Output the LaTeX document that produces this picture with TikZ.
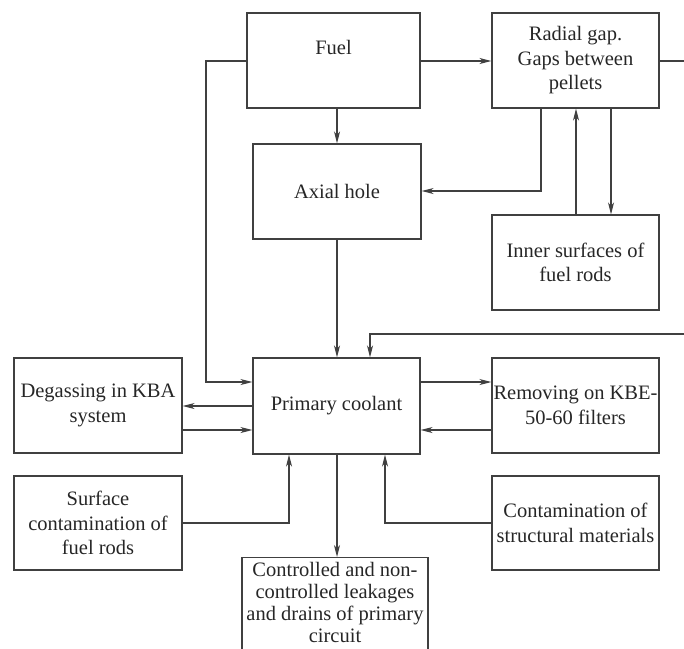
\documentclass[tikz,border=0pt]{standalone}
\usepackage{fontspec}
\setmainfont{Liberation Serif}
\usetikzlibrary{arrows.meta}
\begin{document}
\begin{tikzpicture}[x=1pt,y=-1pt,
  box/.style={draw=black!75,line width=1.1pt,rectangle,inner sep=0pt,align=center,
    font=\fontsize{20.5}{24.5}\selectfont,text=black!85},
  conn/.style={draw=black!75,line width=1.1pt,-{Stealth[length=12pt,width=6pt,inset=3.5pt]}},
  line/.style={draw=black!75,line width=1.1pt},
  lbl/.style={font=\fontsize{20.5}{24.5}\selectfont,text=black!85,inner sep=0pt}]
\useasboundingbox (0,0) rectangle (684,648);
% boxes
\node[box,minimum width=173,minimum height=95] (fuel) at (333.5,60.5) {};
\node[lbl] (fueltxt) at (333.5,47) {Fuel};
\node[box,minimum width=167,minimum height=95] (radial) at (575.5,60.5) {Radial gap.\\Gaps between\\pellets};
\node[box,minimum width=168,minimum height=95] (axial) at (337,191.5) {Axial hole};
\node[box,minimum width=167,minimum height=95] (inner) at (575.5,262.5) {Inner surfaces of\\fuel rods};
\node[box,minimum width=167,minimum height=96] (primary) at (336.5,406) {Primary coolant};
\node[box,minimum width=168,minimum height=95] (degas) at (98,405.5) {Degassing in KBA\\system};
\node[box,minimum width=167,minimum height=95] (removing) at (575.5,405.5) {Removing on KBE-\\50-60 filters};
\node[box,minimum width=168,minimum height=94] (surface) at (98,523) {Surface\\contamination of\\fuel rods};
\node[box,minimum width=167,minimum height=94] (struct) at (575.5,523) {Contamination of\\structural materials};
\node[box,minimum width=186,minimum height=100,anchor=north] (leak) at (335,557) {};
\node[lbl,align=center,font=\fontsize{20.5}{22}\selectfont,anchor=north] (leaktxt) at (335,562) {Controlled and non-\\controlled leakages\\and drains of primary\\circuit};
% connectors
\coordinate (rightedge) at (692,61);
\draw[conn] (fuel.east |- 0,61) -- (radial.west |- 0,61);
\draw[conn] (fuel.south -| 337,0) -- (axial.north -| 337,0);
\draw[conn] (fuel.west |- 0,61) -- (206,61) -- (206,382) -- (primary.west |- 0,382);
\draw[conn] (radial.south -| 541,0) -- (541,191) -- (axial.east |- 0,191);
\draw[conn] (inner.north -| 576,0) -- (radial.south -| 576,0);
\draw[conn] (radial.south -| 611,0) -- (inner.north -| 611,0);
\draw[line] (radial.east |- 0,61) -- (rightedge);
\draw[conn] (692,334) -- (370,334) -- (primary.north -| 370,0);
\draw[conn] (axial.south -| 337,0) -- (primary.north -| 337,0);
\draw[conn] (primary.west |- 0,406) -- (degas.east |- 0,406);
\draw[conn] (degas.east |- 0,430) -- (primary.west |- 0,430);
\draw[conn] (primary.east |- 0,382) -- (removing.west |- 0,382);
\draw[conn] (removing.west |- 0,430) -- (primary.east |- 0,430);
\draw[conn] (surface.east |- 0,523) -- (289,523) -- (primary.south -| 289,0);
\draw[conn] (struct.west |- 0,523) -- (385,523) -- (primary.south -| 385,0);
\draw[conn] (primary.south -| 337,0) -- (leak.north -| 337,0);
\end{tikzpicture}
\end{document}
